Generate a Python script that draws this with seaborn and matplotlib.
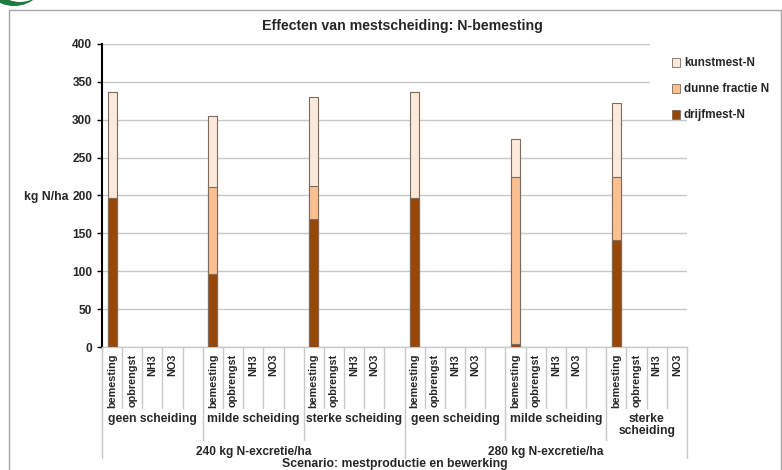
import matplotlib
matplotlib.use("Agg")
import matplotlib.pyplot as plt
from matplotlib.patches import Patch, Rectangle, Ellipse
from matplotlib.transforms import blended_transform_factory
import pandas as pd
import seaborn as sns

# ---- data -------------------------------------------------------------
excretion_levels = ["240 kg N-excretie/ha", "280 kg N-excretie/ha"]
separation_levels = ["geen scheiding", "milde scheiding", "sterke scheiding"]
sub_items = ["bemesting", "opbrengst", "NH3", "NO3"]

# N-bemesting per scenario (kg N/ha), 240 then 280 kg excretion
drijfmest_n = [197, 97, 169, 197, 4, 141]
dunne_fractie_n = [0, 114, 43, 0, 220, 83]
kunstmest_n = [139, 94, 118, 139, 50, 98]

y_ticks = [0, 50, 100, 150, 200, 250, 300, 350, 400]
series_labels = ["kunstmest-N", "dunne fractie N", "drijfmest-N"]
series_colors = ["#FDE9D9", "#FAC090", "#974706"]

# ---- category slots ---------------------------------------------------
n_groups = len(excretion_levels) * len(separation_levels)
slot_labels = []
group_start = []
group_width = []
for g in range(n_groups):
    group_start.append(len(slot_labels))
    items = sub_items + ([""] if g < n_groups - 1 else [])
    group_width.append(len(items))
    slot_labels.extend(items)
n_slots = len(slot_labels)

df = pd.DataFrame({
    "pos": group_start,
    "drijfmest": drijfmest_n,
    "dunne": dunne_fractie_n,
    "kunstmest": kunstmest_n,
})
df["top_dunne"] = df["drijfmest"] + df["dunne"]
df["top_kunst"] = df["top_dunne"] + df["kunstmest"]

# ---- figure -----------------------------------------------------------
sns.set_style("white")
plt.rcParams["font.family"] = ["Liberation Sans", "DejaVu Sans"]
plt.rcParams["font.weight"] = "bold"

fig = plt.figure(figsize=(7.82, 4.70), dpi=100)
ax = fig.add_axes([0.1304, 0.2617, 0.7481, 0.6447])

edge = "#7d6b5d"
bar_w = 0.446 / 5
for col, color in zip(["top_kunst", "top_dunne", "drijfmest"], series_colors):
    sns.barplot(data=df, x="pos", y=col, native_scale=True, width=bar_w,
                color=color, edgecolor=edge, linewidth=0.8, errorbar=None,
                saturation=1, ax=ax, zorder=3)

ax.set_xlim(-0.5, n_slots - 0.5)
ax.set_ylim(0, 400)
ax.set_yticks(y_ticks)
ax.set_yticklabels([str(t) for t in y_ticks], fontsize=8.6, fontweight="bold")
ax.yaxis.grid(True, color="#C8C8C8", linewidth=1.0, zorder=0)
ax.set_axisbelow(True)

for side in ["top", "right"]:
    ax.spines[side].set_visible(False)
ax.spines["left"].set_color("black")
ax.spines["left"].set_linewidth(1.5)
ax.spines["bottom"].set_color("#C8C8C8")
ax.spines["bottom"].set_linewidth(1.0)
ax.tick_params(axis="y", direction="out", length=3.5, width=1.0,
               color="black", pad=3.5, left=True)

ax.set_xticks(range(n_slots))
ax.set_xticklabels(slot_labels, rotation=90, fontsize=7.8,
                   fontweight="bold", va="top")
ax.tick_params(axis="x", length=0, pad=5)
ax.set_xlabel("")

ax.set_ylabel("kg N/ha", rotation=0, ha="right", va="center",
              fontsize=8.8, fontweight="bold")
ax.yaxis.set_label_coords(-0.058, 0.495)

# ---- multi-level category axis ----------------------------------------
trans = blended_transform_factory(ax.transData, ax.transAxes)
sep_color = "#C8C8C8"
group_bounds = [s - 0.5 for s in group_start[1:]]
level_bounds = [-0.5, group_start[3] - 0.5, n_slots - 0.5]
for k in range(1, n_slots):
    x = k - 0.5
    if x in group_bounds:
        continue
    ax.plot([x, x], [0, -0.201], transform=trans, color=sep_color,
            lw=1.0, clip_on=False)
for x in group_bounds:
    y_end = -0.366 if x in level_bounds else -0.307
    ax.plot([x, x], [0, y_end], transform=trans, color=sep_color,
            lw=1.0, clip_on=False)
for x in [level_bounds[0], level_bounds[-1]]:
    ax.plot([x, x], [0, -0.366], transform=trans, color=sep_color,
            lw=1.0, clip_on=False)

for g in range(n_groups):
    label = separation_levels[g % len(separation_levels)]
    if group_width[g] < 5:
        label = label.replace(" ", "\n")
    cx = group_start[g] + group_width[g] / 2 - 0.5
    ax.text(cx, -0.218, label, transform=trans, ha="center", va="top",
            fontsize=8.7, fontweight="bold", linespacing=1.0)

for i, lvl in enumerate(excretion_levels):
    lo = level_bounds[i]
    hi = level_bounds[i + 1]
    ax.text((lo + hi) / 2, -0.3465, lvl, transform=trans, ha="center",
            va="center", fontsize=8.6, fontweight="bold")

ax.text(0.5, -0.387, "Scenario: mestproductie en bewerking",
        transform=ax.transAxes, ha="center", va="center",
        fontsize=8.8, fontweight="bold")

# white legend area overlapping the right end of the upper gridlines
ax.add_patch(Rectangle((650 / 782, 1 - 100 / 470), 60 / 782, 65 / 470,
                       transform=fig.transFigure, facecolor="white",
                       edgecolor="none", zorder=1, clip_on=False))

# ---- title, legend, frame ---------------------------------------------
fig.text(0.514, 0.945, "Effecten van mestscheiding: N-bemesting",
         ha="center", va="center", fontsize=10.2, fontweight="bold")

handles = [Patch(facecolor=c, edgecolor=edge, linewidth=0.6)
           for c in series_colors]
fig.legend(handles, series_labels, loc="upper left",
           bbox_to_anchor=(0.853, 0.888), frameon=False,
           prop={"size": 8.4, "weight": "bold"},
           handlelength=0.75, handleheight=0.75, handletextpad=0.3,
           labelspacing=1.2, borderaxespad=0)

fig.patches.append(Rectangle((0.0115, -0.05), 0.987, 1.0287,
                             transform=fig.transFigure, fill=False,
                             edgecolor="#A6A6A6", linewidth=1.0))
fig.patches.append(Ellipse((14 / 782, 1 + 28 / 470), 68 / 782, 68 / 470,
                           transform=fig.transFigure, facecolor="#1E7B3F",
                           edgecolor="none"))
fig.patches.append(Ellipse((20 / 782, 1 + 31 / 470), 62 / 782, 66 / 470,
                           transform=fig.transFigure, facecolor="white",
                           edgecolor="none"))

fig.savefig("out.png", dpi=100)
